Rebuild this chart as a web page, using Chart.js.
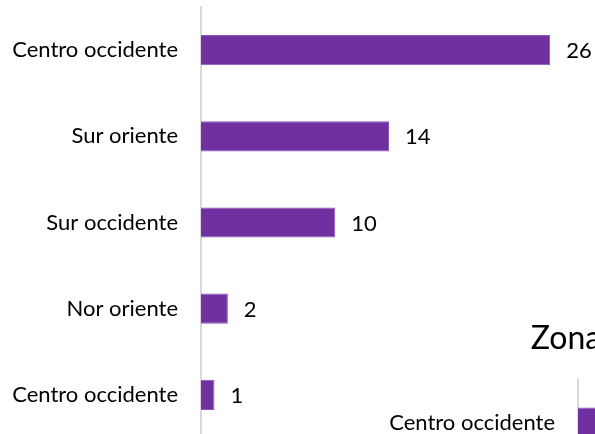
<!DOCTYPE html>
<html>
<head>
<meta charset="utf-8">
<script src="https://cdn.jsdelivr.net/npm/chart.js@4"></script>
<style>
  html, body { margin: 0; padding: 0; overflow: hidden; background: #fff; width: 595px; height: 434px; }
  .box { position: absolute; }
  #wrap1 { left: 0; top: 0; width: 595px; height: 446px; }
  #wrap2 { left: 377px; top: 300px; width: 378px; height: 518px; }
</style>
</head>
<body>
<div class="box" id="wrap1"><canvas id="zonaChart"></canvas></div>
<div class="box" id="wrap2"><canvas id="zonaChart2"></canvas></div>
<script>
const categories = ['Centro occidente', 'Sur oriente', 'Sur occidente', 'Nor oriente', 'Centro occidente'];
const values = [26, 14, 10, 2, 1];
const xMax = 28;
const chartTitle = 'Zona';

const purple = '#7030a0';
const fontName = 'Lato';

// draws the number right after each bar
const valueLabels = {
    id: 'valueLabels',
    afterDatasetsDraw(chart) {
        const ctx = chart.ctx;
        ctx.save();
        ctx.font = '22px ' + fontName;
        ctx.fillStyle = '#000';
        ctx.textAlign = 'left';
        ctx.textBaseline = 'middle';
        chart.getDatasetMeta(0).data.forEach((bar, i) => {
            ctx.fillText(String(values[i]), bar.x + 16, bar.y + 1);
        });
        ctx.restore();
    }
};

function makeChart(canvasId, padRight, withTitle) {
    const ctx = document.getElementById(canvasId).getContext('2d');
    return new Chart(ctx, {
        type: 'bar',
        data: {
            labels: categories,
            datasets: [{
                data: values,
                backgroundColor: purple,
                borderColor: '#8a55b8',
                borderWidth: 1,
                categoryPercentage: 1,
                barPercentage: 0.35
            }]
        },
        options: {
            indexAxis: 'y',
            responsive: true,
            maintainAspectRatio: false,
            animation: false,
            layout: {
                padding: { top: withTitle ? 0 : 7, right: padRight, bottom: 8, left: 0 }
            },
            plugins: {
                legend: { display: false },
                tooltip: { enabled: false },
                title: {
                    display: withTitle,
                    text: chartTitle,
                    color: '#000',
                    font: { family: fontName, size: 32, weight: 'normal' },
                    padding: { top: 19, bottom: 22 }
                }
            },
            scales: {
                x: {
                    display: false,
                    min: 0,
                    max: xMax
                },
                y: {
                    // fixed axis position, no extra room above/below the bars
                    afterFit(scale) {
                        scale.width = 201;
                        scale.paddingTop = 0;
                        scale.paddingBottom = 0;
                    },
                    grid: { display: false, drawTicks: false },
                    border: { display: true, color: '#d9d9d9', width: 2 },
                    ticks: {
                        padding: 23,
                        color: '#000',
                        font: { family: fontName, size: 22 }
                    }
                }
            }
        },
        plugins: [valueLabels]
    });
}

makeChart('zonaChart', 18, false);
makeChart('zonaChart2', 0, true);
</script>
</body>
</html>
